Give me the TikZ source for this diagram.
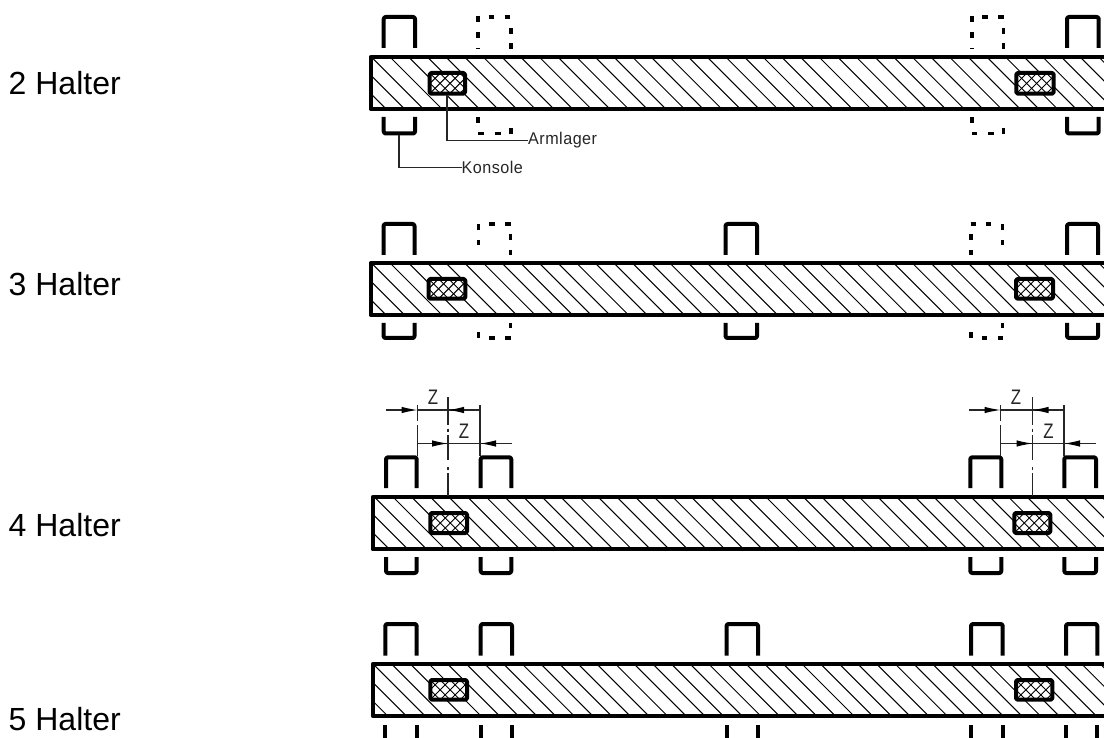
\documentclass[tikz,border=0pt]{standalone}
\usepackage{fontspec}
\setmainfont{Liberation Sans}
\usetikzlibrary{arrows.meta,calc}
\newfontfamily\isofont[LetterSpace=3]{Liberation Sans}
\tikzset{
  x=1pt,y=-1pt,
  heavy/.style={line width=4pt,line join=round,black},
  dashheavy/.style={line width=3.6pt,black},
  hatch/.style={line width=1pt,black},
  xhatch/.style={line width=0.95pt,black},
  leader/.style={line width=1.1pt,black!85},
  dimline/.style={line width=1.1pt,black!85},
  dimtip/.style={dimline,-{Latex[length=16pt,width=6.5pt,black]}},
  rowlabel/.style={anchor=base west,inner sep=0pt,font=\fontsize{32}{33}\selectfont},
  notelabel/.style={anchor=base west,inner sep=0pt,text=black!85,xscale=.95,transform shape,font=\isofont\fontsize{17}{18}\selectfont},
  zlabel/.style={inner sep=0pt,text=black!85,xscale=.8,transform shape,font=\fontsize{21}{21}\selectfont},
}
% bar: left, top, bottom, phase (x at which a hatch line meets the top edge)
\newcommand{\MyBar}[4]{%
  \begin{scope}
    \clip (#1,#2) rectangle (1104,#3);
    \foreach \k in {-3,...,40}{
      \draw[hatch] ({#4+\k*18.65},#2) -- ({#4+\k*18.65+#3-#2},#3);
    }
  \end{scope}
  \draw[heavy] (1104,#2) -- (#1,#2) -- (#1,#3) -- (1104,#3);
}
% bearing block: x1, x2, y1, y2
\newcommand{\MyBlock}[4]{%
  \fill[white] (#1,#3) rectangle (#2,#4);
  \begin{scope}
    \clip (#1,#3) rectangle (#2,#4);
    \foreach \k in {-4,...,8}{
      \draw[xhatch] ({#1+\k*10},#3) -- ({#1+\k*10+#4-#3},#4);
      \draw[xhatch] ({#1+\k*10},#4) -- ({#1+\k*10+#4-#3},#3);
    }
  \end{scope}
  \draw[heavy,rounded corners=1.5pt] (#1,#3) rectangle (#2,#4);
}
% upper bracket: x1, x2, top, bottom
\newcommand{\MyUp}[4]{\draw[heavy,rounded corners=2pt] (#1,#4) -- (#1,#3) -- (#2,#3) -- (#2,#4);}
% lower bracket: x1, x2, top, bottom
\newcommand{\MyDn}[4]{\draw[heavy,rounded corners=2pt] (#1,#3) -- (#1,#4) -- (#2,#4) -- (#2,#3);}
% phantom brackets, row 1: x1, x2, top (or bottom)
\newcommand{\UpA}[3]{\draw[dashheavy]
    (#1,#3-1.3) -- ++(0,6) (#1,#3+15.5) -- ++(0,5.5) (#1,#3+31) -- ++(0,1)
    (#1+10.7,#3) -- ++(5.7,0) (#1+26.7,#3) -- ++(5.7,0)
    (#2,#3+11.5) -- ++(0,5.7) (#2,#3+26.5) -- ++(0,5.7);}
\newcommand{\DnA}[3]{\draw[dashheavy]
    (#1,#3-16.3) -- ++(0,5.5)
    (#1,#3) -- ++(5.7,0) (#1+16.5,#3) -- ++(6,0)
    (#2,#3-5.3) -- ++(0,5.7);}
% phantom brackets, row 2: left-hand, right-hand, lower
\newcommand{\UpB}[3]{\draw[dashheavy]
    (#1,#3) -- ++(0,6) (#1,#3+16) -- ++(0,5)
    (#1+11,#3) -- ++(5.7,0) (#1+27,#3) -- ++(5.7,0)
    (#2,#3+10) -- ++(0,6) (#2,#3+26) -- ++(0,5);}
\newcommand{\UpC}[3]{\draw[dashheavy]
    (#1,#3+10) -- ++(0,6) (#1,#3+26) -- ++(0,5)
    (#1,#3) -- ++(5.7,0) (#1+15,#3) -- ++(5.7,0)
    (#2,#3) -- ++(0,6) (#2,#3+16) -- ++(0,5);}
\newcommand{\DnB}[3]{\draw[dashheavy]
    (#2,#3-15) -- ++(0,5.3) (#1,#3-5.5) -- ++(0,5.5)
    (#1+11,#3) -- ++(5.7,0) (#1+27,#3) -- ++(5.5,0);}
% dimension group: left ext, centre, right ext, far left, far right, name
\newcommand{\MyDim}[6]{%
  \coordinate (#6ua) at (#4,410);
  \coordinate (#6ub) at (#1,410);
  \coordinate (#6uc) at (#3,410);
  \coordinate (#6ud) at (#2,410);
  \coordinate (#6la) at (#1,443.5);
  \coordinate (#6lb) at (#2,443.5);
  \coordinate (#6lc) at (#5,443.5);
  \coordinate (#6ld) at (#3,443.5);
  \draw[dimline] (#6ub) -- (#6uc);
  \draw[dimline] (#6la) -- (#6lc);
  \draw[dimtip] (#6ua) -- (#6ub);
  \draw[dimtip] (#6uc) -- (#6ud);
  \draw[dimtip] ($(#6lb)+(-17,0)$) -- (#6lb);
  \draw[dimtip] (#6lc) -- (#6ld);
  \draw[dimline] (#1,405) -- (#1,421) (#1,425) -- (#1,456);
  \draw[dimline] (#3,405) -- (#3,456);
  \draw[dimline] (#2,397) -- (#2,425) (#2,428.5) -- (#2,431.5) (#2,435) -- (#2,460)
                 (#2,467) -- (#2,470) (#2,473) -- (#2,496);
  \node[zlabel] (#6z1) at (#1+15.5,397) {Z};
  \node[zlabel] (#6z2) at (#2+16,431) {Z};
}
\begin{document}
\begin{tikzpicture}
\useasboundingbox (0,0) rectangle (1104,738);
\fill[white] (0,0) rectangle (1104,738);

\node[rowlabel] (l2) at (8.5,95) {2 Halter};
\node[rowlabel] (l3) at (8.5,296) {3 Halter};
\node[rowlabel] (l4) at (8.5,536) {4 Halter};
\node[rowlabel] (l5) at (8.5,730) {5 Halter};

% row 1
\MyBar{370.5}{57}{109}{390}
\MyBlock{429.7}{465}{73}{93.7}
\MyBlock{1016.3}{1053.7}{73}{93.7}
\MyUp{383.7}{415}{17}{48}
\MyDn{383.7}{415}{117}{133.5}
\UpA{478}{510.7}{17}
\DnA{478}{510.7}{133.5}
\UpA{971.7}{1003.3}{17}
\DnA{971.7}{1003.3}{133.5}
\MyUp{1067}{1098.7}{17}{48}
\MyDn{1067}{1098.7}{117}{133.5}
\node[notelabel] (arm) at (528,145) {Armlager};
\node[notelabel] (kon) at (461.5,173.3) {Konsole};
\coordinate (armS) at (447,95.5);
\coordinate (konS) at (399,135);
\draw[leader] (armS) |- (arm.west);
\draw[leader] (konS) |- (kon.west);

% row 2
\MyBar{370.5}{263}{315}{390}
\MyBlock{428.7}{465.3}{279}{298.7}
\MyBlock{1016}{1053}{279}{298.7}
\MyUp{383.5}{414.5}{224}{255}
\MyDn{383.5}{414.5}{323}{338}
\UpB{478.3}{510.3}{224}
\DnB{478.3}{510.3}{338}
\MyUp{725.5}{757}{224}{255}
\MyDn{725.5}{757}{323}{338}
\UpC{970.7}{1002.3}{224}
\DnB{970.7}{1002.3}{338}
\MyUp{1067}{1098}{224}{255}
\MyDn{1067}{1098}{323}{338}

% row 3
\MyBar{372.7}{497}{549.3}{393}
\MyBlock{430.3}{467}{513}{533}
\MyBlock{1014.3}{1050.3}{513}{533}
\MyUp{386}{416.7}{457.3}{488}
\MyDn{386}{416.7}{557}{573}
\MyUp{480.7}{511.3}{457.3}{488}
\MyDn{480.7}{511.3}{557}{573}
\MyUp{970.3}{1001.3}{457.3}{488}
\MyDn{970.3}{1001.3}{557}{573}
\MyUp{1064.3}{1096}{457.3}{488}
\MyDn{1064.3}{1096}{557}{573}
\MyDim{417.5}{448}{480}{386}{512}{a}
\MyDim{1000.5}{1032.5}{1064}{969}{1096}{b}

% row 4
\MyBar{372.7}{664}{716}{391.7}
\MyBlock{430.3}{467}{680}{699.7}
\MyBlock{1016}{1052.3}{680}{699.7}
\MyUp{385.3}{416.7}{624}{655.5}
\MyUp{480.7}{512}{624}{655.5}
\MyUp{726.5}{758}{624}{655.5}
\MyUp{971}{1002.7}{624}{655.5}
\MyUp{1066}{1097.3}{624}{655.5}
\foreach \xa in {385.3,416.7,480.7,512,726.5,758,971,1002.7,1066,1097.3}{
  \draw[heavy] (\xa,725) -- (\xa,738);
}
\end{tikzpicture}
\end{document}
